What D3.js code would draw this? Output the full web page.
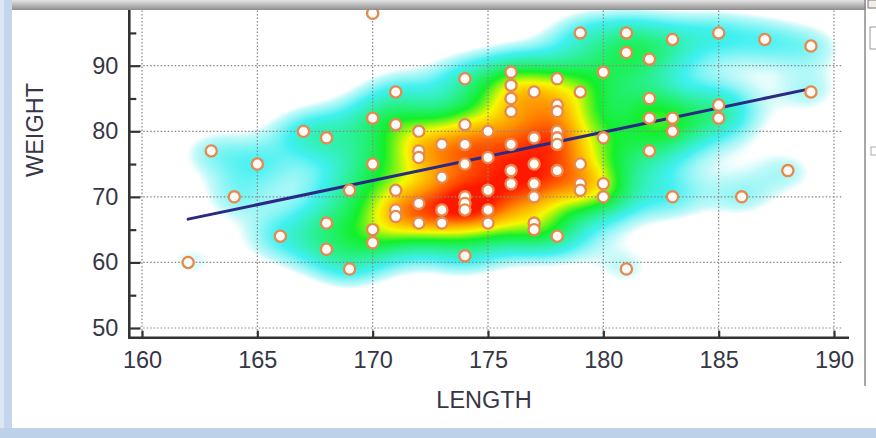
<!DOCTYPE html>
<html>
<head>
<meta charset="utf-8">
<script src="https://cdn.jsdelivr.net/npm/d3@7"></script>
<style>
  body { margin: 0; background: #fff; }
  svg { display: block; }
  .tick text { font-family: "Liberation Sans", Arial, sans-serif; font-size: 23.5px; fill: #363646; }
  .axis-title { font-family: "Liberation Sans", Arial, sans-serif; font-size: 23.5px; fill: #363646; }
</style>
</head>
<body>
<div id="chart"></div>
<script>
// scatter data (length, weight)
var lengths = [162,163,164,165,166,167,168,168,168,169,169,
  170,170,170,170,170, 171,171,171,171,171, 172,172,172,172,172,
  173,173,173,173, 174,174,174,174,174,174,174,174, 175,175,175,175,175,
  176,176,176,176,176,176,176, 177,177,177,177,177,177,177,
  178,178,178,178,178,178,178,178, 179,179,179,179,179, 180,180,180,180,
  181,181,181, 182,182,182,182, 183,183,183,183, 185,185,185,
  186,187,188,189,189];
var weights = [60,77,70,75,64,80,79,66,62,71,59,
  98,82,75,65,63, 86,81,71,68,67, 80,77,76,69,66,
  78,73,68,66, 88,81,78,75,70,69,68,61, 80,76,71,68,66,
  89,87,85,83,78,74,72, 86,79,75,72,70,66,65,
  88,84,83,80,79,78,74,64, 95,86,75,72,71, 89,79,72,70,
  95,92,59, 91,85,82,77, 94,82,80,70, 95,84,82,
  70,94,74,93,86];

// fitted line ends
var fitLength = [162, 189];
var fitWeight = [66.6, 86.5];

var xTicks = [160,165,170,175,180,185,190];
var yTicks = [50,60,70,80,90];
var yMinor = [55,65,75,85,95];

var W = 876, H = 438;
var axisX = 129.3, axisY = 337.7;   // where the two axis lines sit
var plotRight = 849;

var x = d3.scaleLinear().domain([160, 190]).range([142, 834]);
var y = d3.scaleLinear().domain([50, 90]).range([328, 65.7]);

var svg = d3.select("#chart").append("svg")
    .attr("width", W)
    .attr("height", H);

// ---- density cloud: narrow + wide gaussian kernels, drawn on a canvas ----
var cw = Math.round(plotRight - axisX), ch = Math.round(axisY);
var canvas = document.createElement("canvas");
canvas.width = cw; canvas.height = ch;
var ctx = canvas.getContext("2d");
var img = ctx.createImageData(cw, ch);

var pts = lengths.map(function(d, i) { return [x(d) - axisX, y(weights[i])]; });
var nx = 24, ny = 17, bx = 50, by = 26, bw = 0.6;
var dens = new Float32Array(cw * ch);
var maxD = 0;
for (var j = 0; j < ch; j++) {
  for (var i = 0; i < cw; i++) {
    var s = 0;
    for (var k = 0; k < pts.length; k++) {
      var ddx = i - pts[k][0], ddy = j - pts[k][1];
      var eb = (ddx*ddx)/(bx*bx) + (ddy*ddy)/(by*by);
      if (eb > 18) continue;
      s += bw * Math.exp(-0.5 * eb);
      var en = (ddx*ddx)/(nx*nx) + (ddy*ddy)/(ny*ny);
      if (en < 18) s += Math.exp(-0.5 * en);
    }
    dens[j*cw + i] = s;
    if (s > maxD) maxD = s;
  }
}

var color = d3.scaleLinear()
    .domain([0, 0.105, 0.13, 0.22, 0.48, 0.63, 0.78, 0.94])
    .range(["#ffffff", "#ffffff", "#c4f9f9", "#40f0f0", "#12f02a", "#f8f800", "#ff9600", "#ff1800"])
    .clamp(true);

for (var p = 0; p < dens.length; p++) {
  var c = d3.rgb(color(dens[p] / maxD));
  img.data[p*4] = c.r; img.data[p*4+1] = c.g; img.data[p*4+2] = c.b; img.data[p*4+3] = 255;
}
ctx.putImageData(img, 0, 0);

svg.append("image")
    .attr("x", axisX).attr("y", 0)
    .attr("width", cw).attr("height", ch)
    .attr("href", canvas.toDataURL());

// ---- grid ----
var grid = svg.append("g").attr("stroke", "#888").attr("stroke-width", 1.2)
    .attr("stroke-dasharray", "1.5,2");
grid.selectAll(".hg").data(yTicks).join("line")
    .attr("x1", x(159.9)).attr("x2", x(190.4))
    .attr("y1", d => y(d)).attr("y2", d => y(d));
grid.selectAll(".vg").data(xTicks).join("line")
    .attr("x1", d => x(d)).attr("x2", d => x(d))
    .attr("y1", 0).attr("y2", axisY);

// ---- fit line ----
svg.append("line")
    .attr("x1", x(fitLength[0])).attr("y1", y(fitWeight[0]))
    .attr("x2", x(fitLength[1])).attr("y2", y(fitWeight[1]))
    .attr("stroke", "#2b2a82").attr("stroke-width", 3)
    .attr("stroke-linecap", "round");

// ---- points ----
svg.append("g").selectAll("circle")
    .data(lengths)
    .join("circle")
    .attr("cx", (d, i) => x(d))
    .attr("cy", (d, i) => y(weights[i]))
    .attr("r", 5.6)
    .attr("fill", "#fffdfb")
    .attr("stroke", "#e8884c")
    .attr("stroke-width", 2.3);

// ---- axes ----
svg.append("g")
    .attr("transform", "translate(" + axisX + ",0)")
    .call(d3.axisLeft(y).tickValues(yTicks).tickSize(-11).tickPadding(11));
svg.append("g")
    .attr("transform", "translate(" + axisX + ",0)")
    .call(d3.axisLeft(y).tickValues(yMinor).tickSize(-7).tickFormat(""));
svg.append("g")
    .attr("transform", "translate(0," + axisY + ")")
    .call(d3.axisBottom(x).tickValues(xTicks).tickSize(-7).tickPadding(14));

svg.selectAll(".domain").remove();
svg.selectAll(".tick line").attr("stroke", "#333").attr("stroke-width", 2.2);
svg.selectAll(".tick text").attr("font-family", null).attr("font-size", null);

svg.append("line").attr("x1", axisX).attr("x2", axisX).attr("y1", 0).attr("y2", axisY + 1)
    .attr("stroke", "#333").attr("stroke-width", 2.6);
svg.append("line").attr("x1", axisX - 1).attr("x2", plotRight).attr("y1", axisY).attr("y2", axisY)
    .attr("stroke", "#333").attr("stroke-width", 2.6);

svg.append("text").attr("class", "axis-title")
    .attr("x", 484).attr("y", 408).attr("text-anchor", "middle")
    .text("LENGTH");
svg.append("text").attr("class", "axis-title")
    .attr("transform", "translate(43,130) rotate(-90)")
    .attr("text-anchor", "middle")
    .text("WEIGHT");

// ---- window chrome around the chart ----
var defs = svg.append("defs");
var sh = defs.append("linearGradient").attr("id", "topShade").attr("x1", 0).attr("x2", 0).attr("y1", 0).attr("y2", 1);
sh.append("stop").attr("offset", "0%").attr("stop-color", "#e4e4e4");
sh.append("stop").attr("offset", "100%").attr("stop-color", "#8e8e8e");
svg.append("rect").attr("x", 0).attr("y", 0).attr("width", 866).attr("height", 10).attr("fill", "url(#topShade)");
svg.append("rect").attr("x", 0).attr("y", 0).attr("width", 12).attr("height", H).attr("fill", "#c4d6ec");
svg.append("rect").attr("x", 0).attr("y", 0).attr("width", 4).attr("height", H).attr("fill", "#dde7f4");
svg.append("rect").attr("x", 0).attr("y", 428).attr("width", W).attr("height", 10).attr("fill", "#bdd1e9");
svg.append("line").attr("x1", 865).attr("x2", 865).attr("y1", 0).attr("y2", 386)
    .attr("stroke", "#8a8a8a").attr("stroke-width", 1.5);
svg.append("rect").attr("x", 868).attr("y", 0).attr("width", 10).attr("height", 8)
    .attr("fill", "#f3efe6").attr("stroke", "#777");
svg.append("rect").attr("x", 870).attr("y", 27).attr("width", 10).attr("height", 22)
    .attr("fill", "#fff").attr("stroke", "#9a9a9a");
svg.append("rect").attr("x", 871).attr("y", 147).attr("width", 8).attr("height", 8)
    .attr("fill", "none").attr("stroke", "#aaa");
</script>
</body>
</html>
